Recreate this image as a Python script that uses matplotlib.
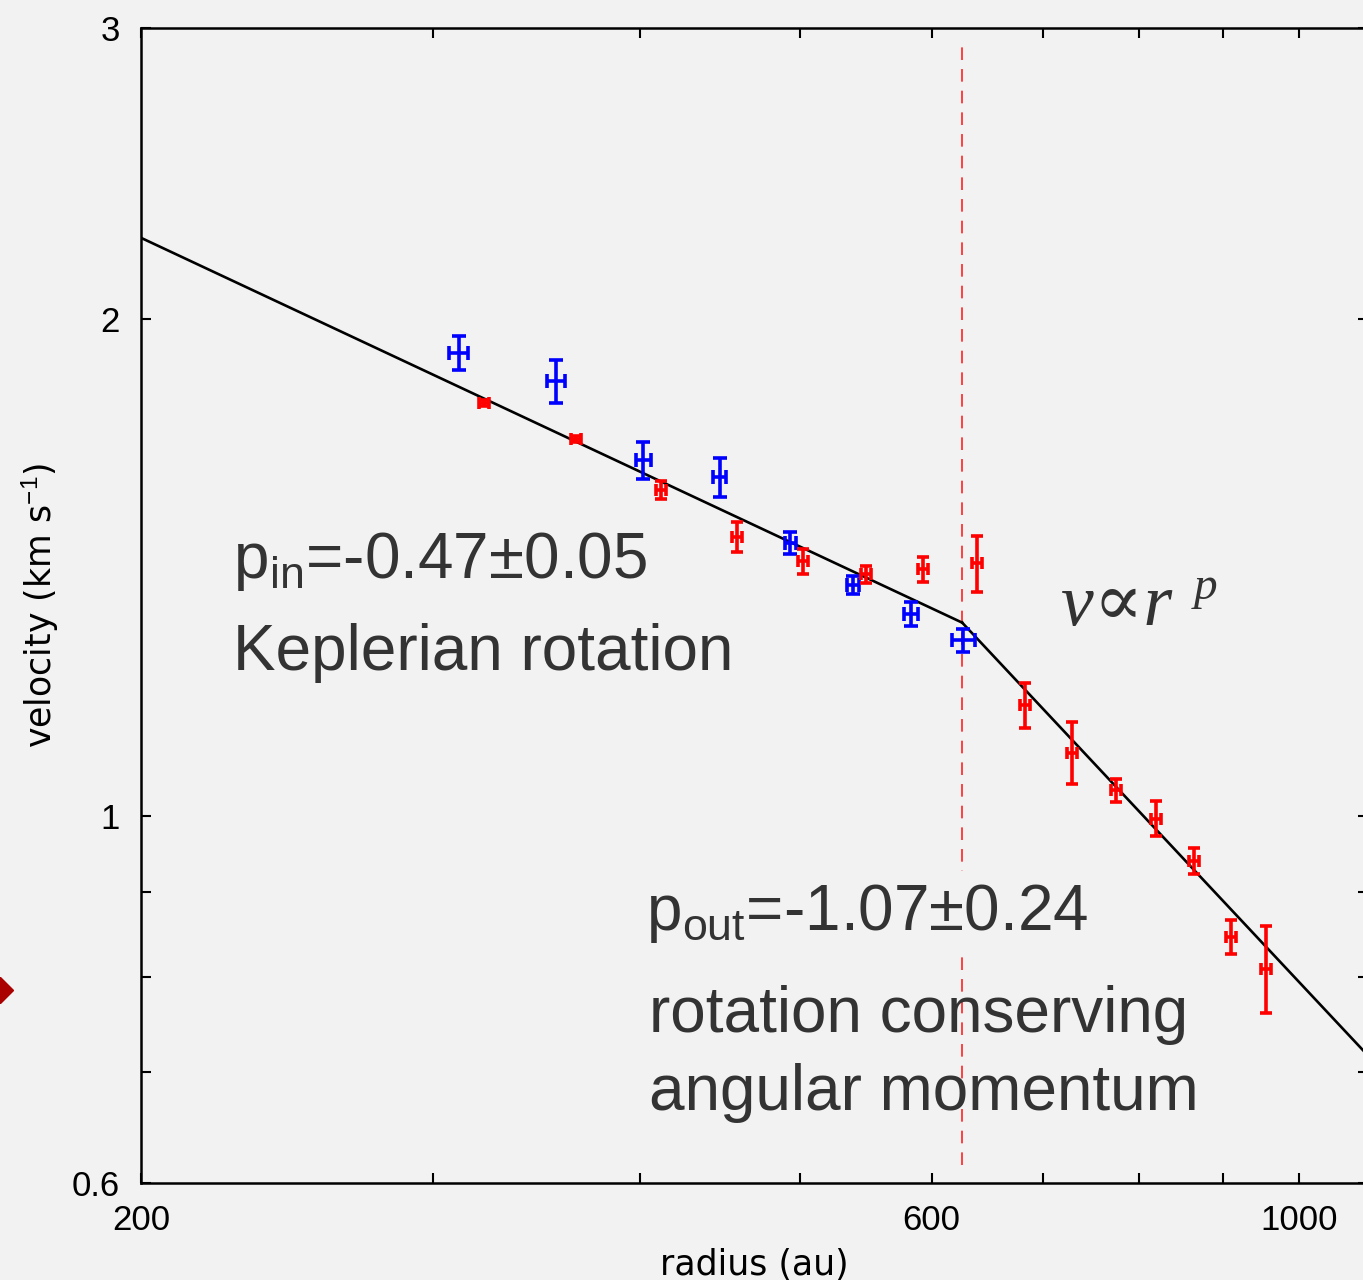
import numpy as np
import matplotlib
matplotlib.use('Agg')
import matplotlib.pyplot as plt
from matplotlib.lines import Line2D

plt.rcParams['font.family'] = ['Liberation Sans', 'DejaVu Sans']
plt.rcParams['mathtext.fontset'] = 'custom'
plt.rcParams['mathtext.rm'] = 'Liberation Sans'
plt.rcParams['mathtext.it'] = 'Liberation Sans:italic'

# blue points
r_blue = [311, 356, 402, 447, 493, 538, 583, 627]
v_blue = [1.907, 1.834, 1.643, 1.604, 1.464, 1.380, 1.326, 1.278]
rerr_blue = [4.0, 4.5, 4.2, 4.0, 3.8, 4.5, 5.7, 10.0]
verr_blue = [0.045, 0.055, 0.042, 0.044, 0.022, 0.017, 0.023, 0.021]

# red points
r_red = [322, 366, 412, 458, 502, 548, 593, 639, 683, 729, 775, 820, 864, 910, 955]
v_red = [1.779, 1.692, 1.576, 1.476, 1.427, 1.401, 1.411, 1.423,
         1.168, 1.093, 1.037, 0.997, 0.940, 0.845, 0.809]
rerr_red = [2.3, 2.6, 2.9, 3.2, 3.5, 3.8, 4.1, 4.5, 4.8, 5.1, 5.4, 5.7, 6.0, 6.4, 6.7]
verr_red = [0.007, 0.007, 0.019, 0.031, 0.025, 0.017, 0.025, 0.056,
            0.037, 0.047, 0.017, 0.024, 0.017, 0.020, 0.049]

# broken power-law fit
p_in = -0.47
p_out = -1.07
r_break = 626
v_break = 1.31

bg = '#f2f2f2'
txt = '#333333'

fig = plt.figure(figsize=(13.63, 12.8), dpi=100, facecolor=bg)
ax = fig.add_axes([0.1034, 0.0758, 0.9002, 0.9023], facecolor=bg)
ax.set_xscale('log')
ax.set_yscale('log')

r_in = np.array([200, r_break])
r_out = np.array([r_break, 1100])
ax.plot(r_in, v_break * (r_in / r_break) ** p_in, color='black', lw=1.9, zorder=3)
ax.plot(r_out, v_break * (r_out / r_break) ** p_out, color='black', lw=1.9, zorder=3)

ax.plot([r_break, r_break], [0.615, 2.93], color='#ff3333', lw=1.3,
        ls=(0, (7, 5)), zorder=1)

ax.errorbar(r_blue, v_blue, xerr=rerr_blue, yerr=verr_blue, fmt='none',
            ecolor='blue', elinewidth=2.6, capsize=5, capthick=2.6, zorder=4)
ax.errorbar(r_red, v_red, xerr=rerr_red, yerr=verr_red, fmt='none',
            ecolor='red', elinewidth=2.6, capsize=4.5, capthick=2.6, zorder=4)

ax.set_xlim(200, 1100)
ax.set_ylim(0.6, 3)

ax.set_xticks([200, 600, 1000])
ax.set_xticklabels(['200', '600', '1000'])
ax.set_xticks([300, 400, 500, 700, 800, 900], minor=True)
ax.xaxis.set_minor_formatter(matplotlib.ticker.NullFormatter())
ax.set_yticks([0.6, 1, 2, 3])
ax.set_yticklabels(['0.6', '1', '2', '3'])
ax.set_yticks([0.7, 0.8, 0.9], minor=True)
ax.yaxis.set_minor_formatter(matplotlib.ticker.NullFormatter())

ax.tick_params(which='both', direction='in', length=7, width=1.5,
               top=True, right=True, labelsize=25, pad=15)
for s in ax.spines.values():
    s.set_linewidth(1.8)

ax.set_xlabel('radius (au)', fontsize=25, family='DejaVu Sans', labelpad=8)
ax.set_ylabel(r'velocity (km s$^{-1}$)', fontsize=25, family='DejaVu Sans', labelpad=8)

ax.text(0.075, 0.524, r'p$_\mathrm{in}$=-0.47±0.05', transform=ax.transAxes,
        fontsize=46, color=txt, va='baseline')
ax.text(0.075, 0.444, 'Keplerian rotation', transform=ax.transAxes,
        fontsize=46, color=txt, va='baseline')
ax.text(0.412, 0.219, r'p$_\mathrm{out}$=-1.07±0.24', transform=ax.transAxes,
        fontsize=46, color=txt, va='baseline', zorder=5,
        bbox=dict(facecolor=bg, edgecolor='none', pad=8))
ax.text(0.414, 0.131, 'rotation conserving', transform=ax.transAxes,
        fontsize=46, color=txt, va='baseline')
ax.text(0.414, 0.063, 'angular momentum', transform=ax.transAxes,
        fontsize=46, color=txt, va='baseline')
ax.text(0.750, 0.483, 'v∝r', transform=ax.transAxes, fontsize=53, color=txt,
        style='italic', family=['Liberation Serif', 'DejaVu Serif'], va='baseline')
ax.text(0.858, 0.506, 'p', transform=ax.transAxes, fontsize=34, color=txt,
        style='italic', family=['Liberation Serif', 'DejaVu Serif'], va='baseline')

# marker at the left edge of the figure
fig.add_artist(Line2D([0.0], [1 - 990 / 1280], marker='D', markersize=13,
                      color='#aa0000', transform=fig.transFigure, ls='none'))

fig.savefig('out.png', dpi=100, facecolor=bg)
